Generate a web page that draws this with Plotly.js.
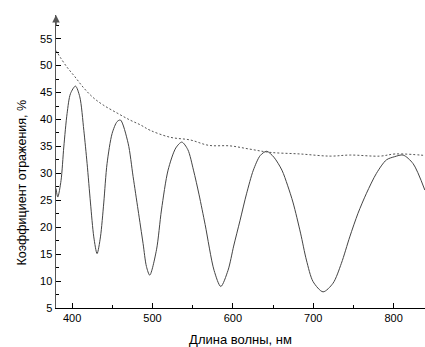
<!DOCTYPE html>
<html>
<head>
<meta charset="utf-8">
<script src="https://cdn.plot.ly/plotly-3.0.1.min.js"></script>
<style>html,body{margin:0;padding:0;background:#fff;}#chart{width:425px;height:347px;}</style>
</head>
<body>
<div id="chart"></div>
<script>
// Reflectance spectrum (solid)
const wavelength = [380,382.2,386.3,389.7,393.8,398,404.2,409.6,414.6,418.7,422.9,427,431.1,435.3,439.4,443.5,449.8,456,460.2,469.7,475.9,482.1,488.3,492.5,496.6,505,511.2,519.4,529,536.5,544,551,558,565.5,576.6,585,594,601,609,617,625.5,634,642,651,661,668,675,684.2,691.5,699.8,712.2,724.6,735,745.4,755.7,766.2,778.6,791,801.4,811.7,824.2,838.8];
const reflectance = [27.2,25.6,28.7,34.9,41.1,44.8,46.2,44.2,38.0,31.8,24.5,18.2,15.1,18.2,24.5,31.8,37.4,39.6,39.9,35.6,29.4,23.2,17.0,12.7,11.1,15.8,23.2,30.6,34.7,35.8,34.4,30.6,26.0,20.5,12.0,9.0,12.0,16.5,21.3,26.2,30.6,33.3,34.1,33.0,30.6,27.8,24.5,18.9,13.9,9.9,8.0,9.6,13.3,18.2,22.6,26.3,30.0,32.5,33.1,33.4,31.8,26.9];
// Envelope (dashed)
const envWavelength = [380,381.3,385,393.8,403.7,413.7,426,438.6,456,472,485,497,522,547,570,596.5,621,646,683.6,721,746,783,802,833,839];
const envelope = [52.8,52.5,51.6,49.7,47.9,46.0,44.1,42.7,41.2,39.9,39.0,38.0,36.7,36.2,35.2,35.1,34.5,33.9,33.6,33.2,33.4,33.2,33.6,33.4,33.3];
const xTicks = [400,500,600,700,800];
const yTicks = [5,10,15,20,25,30,35,40,45,50,55];
const xTitle = "Длина волны, нм";
const yTitle = "Коэффициент отражения, %";

const traces = [
  {x: wavelength, y: reflectance, mode: 'lines', line: {color: '#444', width: 1, shape: 'spline', smoothing: 0.8}, hoverinfo: 'none'},
  {x: envWavelength, y: envelope, mode: 'lines', line: {color: '#555', width: 1, dash: '2px,2px', shape: 'spline'}, hoverinfo: 'none'}
];
const font = {family: 'Liberation Sans, Arial, sans-serif', size: 11, color: '#000'};
const layout = {
  width: 425, height: 347,
  margin: {l: 56, r: 0, t: 15, b: 39},
  paper_bgcolor: '#fff', plot_bgcolor: '#fff',
  showlegend: false,
  font: font,
  xaxis: {
    range: [380, 839], showgrid: false, zeroline: false,
    showline: true, linecolor: '#000', linewidth: 1,
    tickvals: xTicks, ticks: 'inside', ticklen: 5, tickcolor: '#000', tickwidth: 1,
    minor: {ticks: 'inside', ticklen: 3, dtick: 50, tick0: 350, tickcolor: '#000'},
    tickfont: font,
    title: {text: xTitle, font: {family: font.family, size: 13, color: '#000'}, standoff: 12}
  },
  yaxis: {
    range: [5, 59.4], showgrid: false, zeroline: false,
    showline: true, linecolor: '#555', linewidth: 1.5,
    tickvals: yTicks, ticks: 'inside', ticklen: 5, tickcolor: '#000', tickwidth: 1,
    minor: {ticks: 'inside', ticklen: 3, dtick: 2.5, tick0: 5, tickcolor: '#000'},
    tickfont: font
  },
  annotations: [{
    x: 380, y: 59.4, xref: 'x', yref: 'y', text: '', showarrow: true,
    ax: 0, ay: 12, arrowhead: 2, arrowsize: 1, arrowwidth: 1.5, arrowcolor: '#555'
  }, {
    xref: 'paper', yref: 'paper', x: -34 / 369, y: 0.428, xanchor: 'center', yanchor: 'middle',
    text: yTitle, textangle: -90, showarrow: false,
    font: {family: font.family, size: 12.5, color: '#000'}
  }]
};
Plotly.newPlot('chart', traces, layout, {staticPlot: true, displayModeBar: false});
</script>
</body>
</html>
